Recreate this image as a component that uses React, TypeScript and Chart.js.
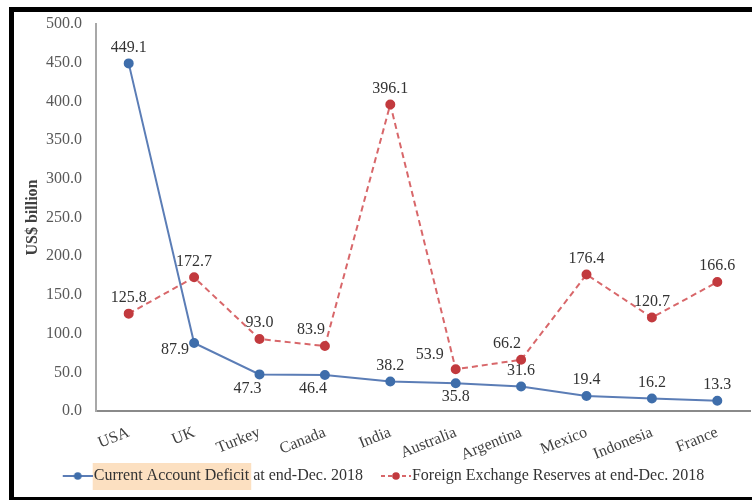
import React, { useEffect, useRef } from 'react';
import { Chart, registerables } from 'chart.js';

Chart.register(...registerables);

const categories = ['USA', 'UK', 'Turkey', 'Canada', 'India', 'Australia', 'Argentina', 'Mexico', 'Indonesia', 'France'];
const currentAccountDeficit = [449.1, 87.9, 47.3, 46.4, 38.2, 35.8, 31.6, 19.4, 16.2, 13.3];
const fxReserves = [125.8, 172.7, 93.0, 83.9, 396.1, 53.9, 66.2, 176.4, 120.7, 166.6];
const seriesNames = ['Current Account Deficit at end-Dec. 2018', 'Foreign Exchange Reserves at end-Dec. 2018'];
const highlightedText = 'Current Account Deficit';
const yAxisTitle = 'US$ billion';
const yMin = 0;
const yMax = 500;
const yStep = 50;

// label placement keywords (a = above, b = below, etc.)
const cadLabelPos = ['a', 'l', 'bl', 'bl', 'a', 'b', 'a', 'a', 'a', 'a'];
const fxLabelPos = ['a', 'a', 'a', 'al', 'a', 'al2', 'al', 'a', 'a', 'a'];

const OFFSETS: Record<string, [number, number]> = {
  a: [0, -16],
  b: [0, 14],
  bl: [-12, 14],
  l: [-19, 7],
  al: [-14, -16],
  al2: [-26, -14],
};

const BLUE_LINE = '#5b7db6';
const BLUE_PT = '#3f6eab';
const RED_LINE = '#d8676a';
const RED_PT = '#c23a3e';
const FONT = '"Liberation Serif", "Times New Roman", serif';
const LEGEND_BOX = 34;
const LEGEND_PAD = 7;
const LEGEND_FONT = 16;
const PLOT_RIGHT = 750;

function makeLegendImage(color: string, ptColor: string, dashed: boolean) {
  const c = document.createElement('canvas');
  c.width = 48;
  c.height = 12;
  const ctx = c.getContext('2d')!;
  ctx.strokeStyle = color;
  ctx.lineWidth = 2;
  if (dashed) ctx.setLineDash([4, 3]);
  ctx.beginPath();
  ctx.moveTo(18, 6);
  ctx.lineTo(48, 6);
  ctx.stroke();
  ctx.setLineDash([]);
  ctx.fillStyle = ptColor;
  ctx.beginPath();
  ctx.arc(33, 6, 3.8, 0, Math.PI * 2);
  ctx.fill();
  return c;
}

const framePlugin = {
  id: 'frame',
  afterLayout(chart: any) {
    if (chart.legend) {
      chart.legend.left -= 16;
    }
    const xs = chart.scales && chart.scales.x;
    if (xs && chart.chartArea && chart.chartArea.right < PLOT_RIGHT) {
      xs.right = PLOT_RIGHT;
      xs.width = xs.right - xs.left;
      if (typeof xs.configure === 'function') xs.configure();
      chart.chartArea.right = PLOT_RIGHT;
      chart.chartArea.width = PLOT_RIGHT - chart.chartArea.left;
    }
  },
  beforeDraw(chart: any) {
    const ctx = chart.ctx;
    ctx.save();
    ctx.fillStyle = '#ffffff';
    ctx.fillRect(0, 0, chart.width, chart.height);
    const legend = chart.legend;
    if (legend) {
      ctx.font = LEGEND_FONT + 'px ' + FONT;
      const texts = chart.data.datasets.map((d: any) => ctx.measureText(d.label).width);
      const lineWidth = texts.reduce((s: number, t: number) => s + t + LEGEND_BOX + LEGEND_FONT / 2 + LEGEND_PAD, 0);
      const x1 = (legend.left + LEGEND_PAD + legend.right - lineWidth) / 2;
      const tx = x1 + LEGEND_BOX + LEGEND_FONT / 2;
      const cy = legend.top + LEGEND_PAD + LEGEND_FONT / 2;
      const w = ctx.measureText(highlightedText).width;
      ctx.fillStyle = 'rgba(251, 214, 172, 0.75)';
      ctx.fillRect(tx - 1, cy - 13, w + 3, 27);
    }
    ctx.fillStyle = '#000000';
    ctx.fillRect(9, 7, 5, 493);
    ctx.fillRect(9, 7, 743, 5);
    ctx.fillRect(9, 497, 743, 3);
    ctx.restore();
  },
};

const labelPlugin = {
  id: 'pointLabels',
  afterDatasetsDraw(chart: any) {
    const ctx = chart.ctx;
    ctx.save();
    ctx.font = '16px ' + FONT;
    ctx.fillStyle = '#333333';
    ctx.textAlign = 'center';
    ctx.textBaseline = 'middle';
    const posSets = [cadLabelPos, fxLabelPos];
    chart.data.datasets.forEach((ds: any, di: number) => {
      const meta = chart.getDatasetMeta(di);
      meta.data.forEach((pt: any, i: number) => {
        const [dx, dy] = OFFSETS[posSets[di][i]] || OFFSETS.a;
        ctx.fillText(Number(ds.data[i]).toFixed(1), pt.x + dx, pt.y + dy);
      });
    });
    ctx.restore();
  },
};

export default function App() {
  const ref = useRef<HTMLCanvasElement | null>(null);

  useEffect(() => {
    if (!ref.current) return;
    const imgs = [makeLegendImage(BLUE_LINE, BLUE_PT, false), makeLegendImage(RED_LINE, RED_PT, true)];
    const chart = new Chart(ref.current, {
      type: 'line',
      data: {
        labels: categories,
        datasets: [
          {
            label: seriesNames[0],
            data: currentAccountDeficit,
            borderColor: BLUE_LINE,
            backgroundColor: BLUE_PT,
            pointBackgroundColor: BLUE_PT,
            pointBorderColor: BLUE_PT,
            borderWidth: 2,
            pointRadius: 4,
            tension: 0,
            fill: false,
          },
          {
            label: seriesNames[1],
            data: fxReserves,
            borderColor: RED_LINE,
            backgroundColor: RED_PT,
            pointBackgroundColor: RED_PT,
            pointBorderColor: RED_PT,
            borderWidth: 2,
            borderDash: [6, 4],
            pointRadius: 4,
            tension: 0,
            fill: false,
          },
        ],
      },
      options: {
        responsive: false,
        animation: false,
        layout: { padding: { left: 18, right: -2, top: 24, bottom: 6 } },
        plugins: {
          tooltip: { enabled: false },
          legend: {
            position: 'bottom',
            labels: {
              usePointStyle: true,
              pointStyleWidth: LEGEND_BOX,
              padding: LEGEND_PAD,
              color: '#333333',
              font: { family: FONT, size: LEGEND_FONT },
              generateLabels: (ch: any) =>
                ch.data.datasets.map((ds: any, i: number) => ({
                  text: ds.label,
                  pointStyle: imgs[i],
                  fillStyle: ds.backgroundColor,
                  strokeStyle: ds.borderColor,
                  lineWidth: 0,
                  hidden: false,
                  datasetIndex: i,
                  fontColor: '#333333',
                })),
            },
          },
        },
        scales: {
          x: {
            type: 'category',
            offset: true,
            grid: { display: false },
            border: { display: true, color: '#8a8a8a', width: 2 },
            ticks: {
              autoSkip: false,
              minRotation: 22,
              maxRotation: 22,
              padding: 4,
              color: '#404040',
              font: { family: FONT, size: 16 },
            },
            afterFit: (scale: any) => {
              scale.height = 50;
            },
          },
          y: {
            min: yMin,
            max: yMax,
            grid: { display: false },
            border: { display: true, color: '#a8a8a8', width: 2 },
            ticks: {
              stepSize: yStep,
              padding: 6,
              color: '#595959',
              font: { family: FONT, size: 16 },
              callback: (v: any) => Number(v).toFixed(1),
            },
            title: {
              display: true,
              text: yAxisTitle,
              color: '#404040',
              padding: { top: 5, bottom: 0 },
              font: { family: FONT, size: 16, weight: 'bold' },
            },
            afterFit: (scale: any) => {
              scale.width = 78;
            },
          },
        },
      },
      plugins: [framePlugin, labelPlugin],
    } as any);
    return () => chart.destroy();
  }, []);

  return (
    <div style={{ position: 'absolute', left: 0, top: 0, width: 752, height: 500 }}>
      <canvas ref={ref} width={752} height={500} style={{ display: 'block' }} />
    </div>
  );
}
